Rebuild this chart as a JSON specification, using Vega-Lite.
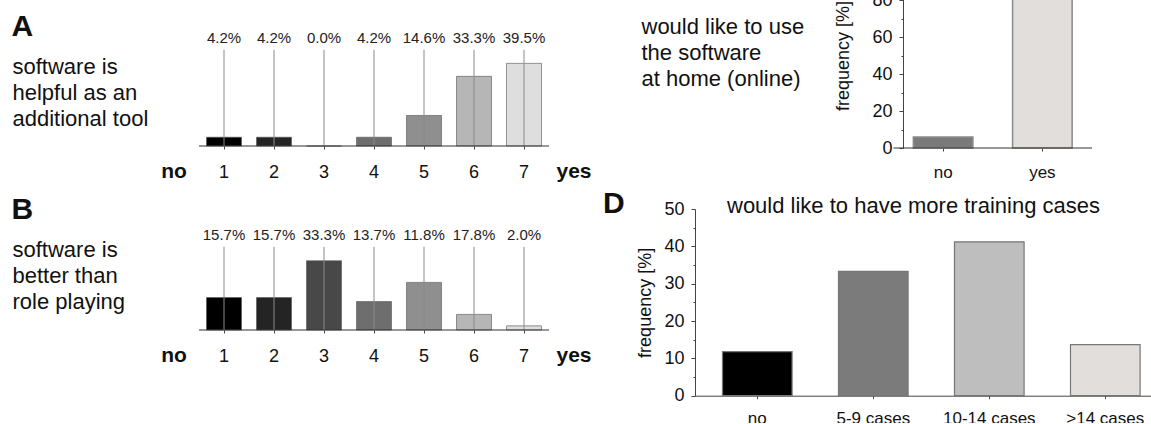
{
  "$schema": "https://vega.github.io/schema/vega-lite/v6.json",
  "autosize": {"type": "pad"},
  "padding": {"left": 11, "top": -46, "right": -19, "bottom": -4},
  "background": "white",
  "config": {
    "font": "Liberation Sans",
    "view": {"stroke": null},
    "axis": {"domainColor": "#444", "tickColor": "#444", "labelColor": "#111", "titleColor": "#111", "grid": false}
  },
  "datasets": {
    "helpful": [
      {"cat": "1", "value": 4.2, "label": "4.2%"},
      {"cat": "2", "value": 4.2, "label": "4.2%"},
      {"cat": "3", "value": 0, "label": "0.0%"},
      {"cat": "4", "value": 4.2, "label": "4.2%"},
      {"cat": "5", "value": 14.6, "label": "14.6%"},
      {"cat": "6", "value": 33.3, "label": "33.3%"},
      {"cat": "7", "value": 39.5, "label": "39.5%"}
    ],
    "better": [
      {"cat": "1", "value": 15.6, "label": "15.7%"},
      {"cat": "2", "value": 15.6, "label": "15.7%"},
      {"cat": "3", "value": 33.3, "label": "33.3%"},
      {"cat": "4", "value": 13.7, "label": "13.7%"},
      {"cat": "5", "value": 22.9, "label": "11.8%"},
      {"cat": "6", "value": 7.5, "label": "17.8%"},
      {"cat": "7", "value": 2.0, "label": "2.0%"}
    ],
    "home": [
      {"answer": "no", "freq": 5.9},
      {"answer": "yes", "freq": 94.1}
    ],
    "cases": [
      {"answer": "no", "freq": 11.8},
      {"answer": "5-9 cases", "freq": 33.3},
      {"answer": "10-14 cases", "freq": 41.2},
      {"answer": ">14 cases", "freq": 13.7}
    ]
  },
  "columns": 2,
  "align": "none",
  "bounds": "flush",
  "spacing": {"row": 61, "column": 96},
  "resolve": {"scale": {"x": "independent", "y": "independent", "fill": "independent"}},
  "concat": [
    {
      "width": 450,
      "height": 183,
      "data": {"name": "helpful"},
      "resolve": {"axis": {"x": "independent", "y": "independent"}},
      "layer": [
        {
          "mark": {"type": "bar", "width": {"band": 0.7}, "stroke": "#555", "strokeWidth": 1, "strokeOpacity": 0.6},
          "encoding": {
            "x": {
              "field": "cat", "type": "nominal",
              "scale": {"domain": ["no", "1", "2", "3", "4", "5", "6", "7", "yes"], "paddingInner": 0, "paddingOuter": 0},
              "axis": {
                "title": "A", "titleFontSize": 30, "titleFontWeight": "bold", "titleX": -138, "titleY": -111,
                "titleAlign": "left", "titleBaseline": "alphabetic", "titleAngle": 0,
                "domain": false, "labelAngle": 0, "labelBaseline": "alphabetic", "labelPadding": 28,
                "labelFontSize": {"condition": {"test": "datum.value === 'no' || datum.value === 'yes'", "value": 21}, "value": 18},
                "labelFontWeight": {"condition": {"test": "datum.value === 'no' || datum.value === 'yes'", "value": "bold"}, "value": "normal"},
                "tickSize": 3,
                "tickOpacity": {"condition": {"test": "datum.value === 'no' || datum.value === 'yes'", "value": 0}, "value": 1}
              }
            },
            "y": {
              "field": "value", "type": "quantitative",
              "scale": {"domain": [0, 87.5], "nice": false, "zero": true},
              "axis": {
                "title": ["software is", "helpful as an", "additional tool"],
                "titleAngle": 0, "titleAlign": "left", "titleBaseline": "alphabetic", "titleX": -137, "titleY": 110,
                "titleFontSize": 22, "titleFontWeight": "normal", "titleLineHeight": 26.3,
                "labels": false, "ticks": false, "domain": false
              }
            },
            "fill": {
              "field": "cat", "type": "nominal", "legend": null,
              "scale": {"domain": ["1", "2", "3", "4", "5", "6", "7"], "range": ["#000000", "#242424", "#484848", "#6e6e6e", "#8f8f8f", "#b6b6b6", "#dedede"]}
            }
          }
        },
        {
          "mark": {"type": "rule", "color": "#8a8a8a", "strokeWidth": 1},
          "encoding": {
            "x": {"field": "cat", "type": "nominal", "axis": null},
            "y": {"datum": 46, "axis": null},
            "y2": {"datum": 0}
          }
        },
        {
          "mark": {"type": "text", "fontSize": 15, "baseline": "middle", "dy": -12, "color": "#222"},
          "encoding": {
            "x": {"field": "cat", "type": "nominal", "axis": null},
            "y": {"datum": 46, "axis": null},
            "text": {"field": "label"}
          }
        },
        {
          "data": {"values": [{}]},
          "mark": {"type": "rule", "color": "#333", "strokeWidth": 1},
          "encoding": {
            "x": {"datum": "1", "bandPosition": 0, "axis": null},
            "x2": {"datum": "7", "bandPosition": 1},
            "y": {"datum": 0, "axis": null}
          }
        }
      ]
    },
    {
      "width": 397,
      "height": 185,
      "data": {"name": "home"},
      "resolve": {"axis": {"x": "independent", "y": "independent"}},
      "layer": [
        {
          "mark": {"type": "bar", "width": {"band": 0.6}, "stroke": "#8a8a8a", "strokeWidth": 1.5},
          "encoding": {
            "x": {
              "field": "answer", "type": "nominal",
              "scale": {"domain": ["no", "yes"], "paddingInner": 0, "paddingOuter": 1.1005, "align": 1},
              "axis": {
                "title": ["would like to use", "the software", "at home (online)"],
                "titleX": -54, "titleY": -114.7, "titleAlign": "left", "titleBaseline": "alphabetic", "titleAngle": 0,
                "titleFontSize": 22, "titleFontWeight": "normal", "titleLineHeight": 26,
                "domain": false, "labelAngle": 0, "labelFontSize": 17, "labelPadding": 13, "tickSize": 3
              }
            },
            "y": {
              "field": "freq", "type": "quantitative",
              "scale": {"domain": [0, 100], "nice": false},
              "axis": {
                "offset": -208,
                "values": [0, 10, 20, 30, 40, 50, 60, 70, 80, 90, 100],
                "labelExpr": "datum.value % 20 === 0 ? datum.label : ''",
                "tickSize": {"condition": {"test": "datum.value % 20 === 0", "value": 4}, "value": 2},
                "labelFontSize": 18, "labelPadding": 7, "labelFlush": false, "labelOverlap": false,
                "title": "frequency [%]", "titleFontSize": 18, "titleFontWeight": "normal", "titlePadding": 9
              }
            },
            "fill": {
              "field": "answer", "type": "nominal", "legend": null,
              "scale": {"domain": ["no", "yes"], "range": ["#7a7a7a", "#e2dedb"]}
            }
          }
        },
        {
          "data": {"values": [{}]},
          "mark": {"type": "rule", "color": "#333", "strokeWidth": 1},
          "encoding": {
            "x": {"datum": "no", "bandPosition": 0, "axis": null},
            "x2": {"datum": "yes", "bandPosition": 1},
            "y": {"datum": 0, "axis": null}
          }
        }
      ]
    },
    {
      "width": 450,
      "height": 121,
      "data": {"name": "better"},
      "resolve": {"axis": {"x": "independent", "y": "independent"}},
      "layer": [
        {
          "mark": {"type": "bar", "width": {"band": 0.7}, "stroke": "#555", "strokeWidth": 1, "strokeOpacity": 0.6},
          "encoding": {
            "x": {
              "field": "cat", "type": "nominal",
              "scale": {"domain": ["no", "1", "2", "3", "4", "5", "6", "7", "yes"], "paddingInner": 0, "paddingOuter": 0},
              "axis": {
                "title": "B", "titleFontSize": 30, "titleFontWeight": "bold", "titleX": -138, "titleY": -111.3,
                "titleAlign": "left", "titleBaseline": "alphabetic", "titleAngle": 0,
                "domain": false, "labelAngle": 0, "labelBaseline": "alphabetic", "labelPadding": 28,
                "labelFontSize": {"condition": {"test": "datum.value === 'no' || datum.value === 'yes'", "value": 21}, "value": 18},
                "labelFontWeight": {"condition": {"test": "datum.value === 'no' || datum.value === 'yes'", "value": "bold"}, "value": "normal"},
                "tickSize": 3,
                "tickOpacity": {"condition": {"test": "datum.value === 'no' || datum.value === 'yes'", "value": 0}, "value": 1}
              }
            },
            "y": {
              "field": "value", "type": "quantitative",
              "scale": {"domain": [0, 58.2], "nice": false, "zero": true},
              "axis": {
                "title": ["software is", "better than", "role playing"],
                "titleAngle": 0, "titleAlign": "left", "titleBaseline": "alphabetic", "titleX": -137, "titleY": 47.4,
                "titleFontSize": 22, "titleFontWeight": "normal", "titleLineHeight": 26.3,
                "labels": false, "ticks": false, "domain": false
              }
            },
            "fill": {
              "field": "cat", "type": "nominal", "legend": null,
              "scale": {"domain": ["1", "2", "3", "4", "5", "6", "7"], "range": ["#000000", "#242424", "#484848", "#6e6e6e", "#8f8f8f", "#b6b6b6", "#dedede"]}
            }
          }
        },
        {
          "mark": {"type": "rule", "color": "#8a8a8a", "strokeWidth": 1},
          "encoding": {
            "x": {"field": "cat", "type": "nominal", "axis": null},
            "y": {"datum": 40, "axis": null},
            "y2": {"datum": 0}
          }
        },
        {
          "mark": {"type": "text", "fontSize": 15, "baseline": "middle", "dy": -12, "color": "#222"},
          "encoding": {
            "x": {"field": "cat", "type": "nominal", "axis": null},
            "y": {"datum": 40, "axis": null},
            "text": {"field": "label"}
          }
        },
        {
          "data": {"values": [{}]},
          "mark": {"type": "rule", "color": "#333", "strokeWidth": 1},
          "encoding": {
            "x": {"datum": "1", "bandPosition": 0, "axis": null},
            "x2": {"datum": "7", "bandPosition": 1},
            "y": {"datum": 0, "axis": null}
          }
        }
      ]
    },
    {
      "width": 475,
      "height": 186.7,
      "data": {"name": "cases"},
      "title": {"text": "D", "anchor": "start", "frame": "group", "dx": -92, "offset": -49, "fontSize": 30, "fontWeight": "bold", "baseline": "alphabetic", "color": "#111"},
      "mark": {"type": "bar", "width": {"band": 0.6}, "stroke": "#777", "strokeWidth": 1.2},
      "encoding": {
        "x": {
          "field": "answer", "type": "nominal",
          "scale": {"domain": ["no", "5-9 cases", "10-14 cases", ">14 cases"], "paddingInner": 0, "paddingOuter": 0.0474, "align": 0.39},
          "axis": {
            "title": "would like to have more training cases",
            "titleX": 31.5, "titleY": -183.7, "titleAlign": "left", "titleBaseline": "alphabetic", "titleAngle": 0,
            "titleFontSize": 22, "titleFontWeight": "normal",
            "labelAngle": 0, "labelFontSize": 17, "labelPadding": 12, "tickSize": 3
          }
        },
        "y": {
          "field": "freq", "type": "quantitative",
          "scale": {"domain": [0, 50], "nice": false},
          "axis": {
            "values": [0, 5, 10, 15, 20, 25, 30, 35, 40, 45, 50],
            "labelExpr": "datum.value % 10 === 0 ? datum.label : ''",
            "tickSize": {"condition": {"test": "datum.value % 10 === 0", "value": 4}, "value": 2},
            "labelFontSize": 18, "labelPadding": 7, "labelFlush": false, "labelOverlap": false,
            "title": "frequency [%]", "titleFontSize": 18, "titleFontWeight": "normal", "titlePadding": 9
          }
        },
        "fill": {
          "field": "answer", "type": "nominal", "legend": null,
          "scale": {"domain": ["no", "5-9 cases", "10-14 cases", ">14 cases"], "range": ["#000000", "#7b7b7b", "#bebebe", "#e2dedb"]}
        }
      }
    }
  ]
}
